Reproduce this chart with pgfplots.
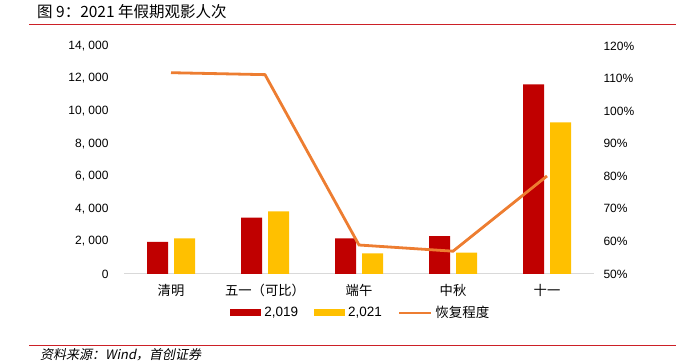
\documentclass[border=0pt]{standalone}
\usepackage{fontspec}
\setmainfont{Liberation Sans}
\newfontfamily\cjk{Noto Sans CJK SC}
\newfontfamily\cjkit[FakeSlant=0.2]{Noto Sans CJK SC}
\usepackage{pgfplots}
\pgfplotsset{compat=1.18}
\definecolor{cred}{RGB}{192,0,0}
\definecolor{cyel}{RGB}{255,192,0}
\definecolor{corg}{RGB}{237,125,49}
\definecolor{crule}{RGB}{204,32,39}
\definecolor{cgrid}{RGB}{217,217,217}
\begin{document}
\begin{tikzpicture}[x=1pt,y=1pt]
\useasboundingbox (0,0) rectangle (676,363);
\node[anchor=west,font=\cjk\fontsize{15.5}{17}\selectfont,inner sep=0] at (37,351) {图 9：2021 年假期观影人次};
\draw[crule,line width=1.3] (29,338.5) -- (676,338.5);
\draw[crule,line width=1.3] (29,17.5) -- (676,17.5);
\node[anchor=west,font=\cjkit\fontsize{13}{15}\selectfont,inner sep=0] at (40,8) {资料来源：Wind，首创证券};
\begin{axis}[
  at={(124pt,89pt)}, anchor=south west,
  width=470pt, height=228pt, scale only axis,
  xmin=-0.5, xmax=4.5, ymin=0, ymax=14000,
  ybar=6pt, bar width=21pt,
  axis y line*=left, axis x line*=bottom,
  y axis line style={draw=none},
  x axis line style={draw=cgrid, line width=1pt, -},
  major tick length=0pt,
  scaled y ticks=false,
  xtick={0,1,2,3,4},
  xticklabels={清明,五一（可比）,端午,中秋,十一},
  x tick label style={font=\cjk\fontsize{13.3}{15}\selectfont, yshift=-7pt},
  ytick={0,2000,4000,6000,8000,10000,12000,14000},
  yticklabels={0,{2, 000},{4, 000},{6, 000},{8, 000},{10, 000},{12, 000},{14, 000}},
  y tick label style={font=\fontsize{12}{14}\selectfont, xshift=-12pt},
  /pgf/number format/assume math mode=true,
  legend style={at={(0.504,-0.171)}, anchor=center, draw=none, legend columns=3,
    font=\fontsize{13.5}{15}\selectfont, column sep=1pt,
    /tikz/every even column/.append style={column sep=14pt}},
  legend cell align=left,
  area legend,
  clip=false,
]
\addplot[fill=cred, draw=none, legend image code/.code={\fill[cred] (0pt,-3.5pt) rectangle (31pt,3.5pt);}] coordinates {(0,1965) (1,3460) (2,2190) (3,2333) (4,11650)};
\addlegendentry{2,019}
\addplot[fill=cyel, draw=none, legend image code/.code={\fill[cyel] (0pt,-3.5pt) rectangle (31pt,3.5pt);}] coordinates {(0,2190) (1,3850) (2,1270) (3,1310) (4,9310)};
\addlegendentry{2,021}
\addlegendimage{legend image code/.code={\draw[corg,line width=2.5pt] (0pt,0pt) -- (32pt,0pt);}}
\addlegendentry{\cjk 恢复程度}
\end{axis}
\begin{axis}[
  at={(124pt,89pt)}, anchor=south west,
  width=470pt, height=228pt, scale only axis,
  xmin=-0.5, xmax=4.5, ymin=50, ymax=120,
  axis y line*=right, axis x line=none,
  y axis line style={draw=none},
  major tick length=0pt,
  ytick={50,60,70,80,90,100,110,120},
  yticklabel={\pgfmathprintnumber{\tick}\%},
  y tick label style={font=\fontsize{12}{14}\selectfont, xshift=6pt},
  /pgf/number format/assume math mode=true,
]
\addplot[corg, line width=2.8pt, no markers] coordinates {(0,111.8) (1,111.2) (2,58.9) (3,57.0) (4,80.1)};
\end{axis}
\end{tikzpicture}
\end{document}
